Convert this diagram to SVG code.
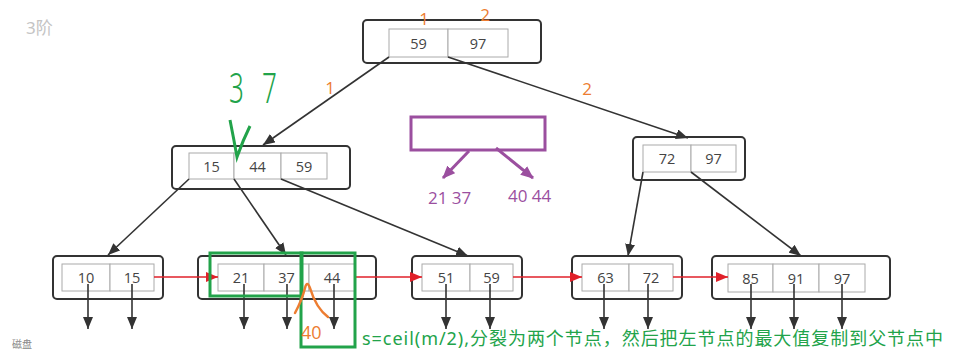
<svg xmlns="http://www.w3.org/2000/svg" width="958" height="354" viewBox="0 0 958 354">
<style>
.outer{fill:#fff;stroke:#333;stroke-width:2}
.cell{fill:#fff;stroke:#aaa;stroke-width:1}
.k{font-family:"Open Sans","Liberation Sans",sans-serif;font-size:14.5px;fill:#444;text-anchor:middle;dominant-baseline:central}
.edge{stroke:#333;stroke-width:1.6;fill:none;marker-end:url(#ah)}
.red{stroke:#e0202a;stroke-width:1.6;fill:none;marker-end:url(#ahr)}
.pur{stroke:#9b4f9f;stroke-width:3;fill:none;marker-end:url(#ahp)}
.or{font-family:"Open Sans","Liberation Sans",sans-serif;font-size:17px;fill:#ed7d31;text-anchor:middle}
.gr{stroke:#22a34a;stroke-width:3;fill:none}
.pt{font-family:"Open Sans","Liberation Sans",sans-serif;font-size:17px;fill:#9b4f9f}
.hw{font-family:"Noto Sans","Liberation Sans",sans-serif;font-size:42px;font-weight:300;fill:#22a34a}
</style>
<defs>
<marker id="ah" markerUnits="userSpaceOnUse" markerWidth="12" markerHeight="10" refX="12" refY="5" orient="auto"><path d="M0,0 L12,5 L0,10 z" fill="#333"/></marker>
<marker id="ahr" markerUnits="userSpaceOnUse" markerWidth="12" markerHeight="10" refX="12" refY="5" orient="auto"><path d="M0,0 L12,5 L0,10 z" fill="#e0202a"/></marker>
<marker id="ahp" markerUnits="userSpaceOnUse" markerWidth="13" markerHeight="11" refX="12" refY="5.5" orient="auto"><path d="M0,0 L13,5.5 L0,11 z" fill="#9b4f9f"/></marker>
</defs>
<rect width="958" height="354" fill="#fff"/>
<text x="26" y="34" font-family="'Noto Sans','Noto Sans CJK SC',sans-serif" font-size="17" fill="#c4c4c4">3阶</text>
<text x="12" y="348" font-family="'Noto Sans CJK SC',sans-serif" font-size="10" fill="#888">磁盘</text>

<g id="root">
<rect class="outer" x="363" y="20" width="178" height="43" rx="4"/>
<rect class="cell" x="389" y="29" width="59" height="28"/>
<rect class="cell" x="448" y="29" width="60" height="28"/>
<text class="k" x="418.5" y="43">59</text>
<text class="k" x="478" y="43">97</text>
</g>
<g id="mid-left">
<rect class="outer" x="172" y="146" width="178" height="43" rx="4"/>
<rect class="cell" x="189" y="153" width="45" height="26"/>
<rect class="cell" x="234" y="153" width="47" height="26"/>
<rect class="cell" x="281" y="153" width="46" height="26"/>
<text class="k" x="211.5" y="166">15</text>
<text class="k" x="257.5" y="166">44</text>
<text class="k" x="304" y="166">59</text>
</g>
<g id="mid-right">
<rect class="outer" x="633" y="137" width="112" height="43" rx="4"/>
<rect class="cell" x="643" y="145" width="48" height="27"/>
<rect class="cell" x="691" y="145" width="45" height="27"/>
<text class="k" x="667" y="158.5">72</text>
<text class="k" x="713.5" y="158.5">97</text>
</g>
<g id="leaf1">
<rect class="outer" x="53" y="256" width="110" height="43" rx="4"/>
<rect class="cell" x="62" y="264" width="48" height="27"/>
<rect class="cell" x="110" y="264" width="44" height="27"/>
<text class="k" x="86" y="277.5">10</text>
<text class="k" x="132" y="277.5">15</text>
</g>
<g id="leaf2">
<rect class="outer" x="198" y="256" width="178" height="43" rx="4"/>
<rect class="cell" x="218" y="264" width="46" height="27"/>
<rect class="cell" x="264" y="264" width="45" height="27"/>
<rect class="cell" x="309" y="264" width="46" height="27"/>
<text class="k" x="241" y="277.5">21</text>
<text class="k" x="286.5" y="277.5">37</text>
<text class="k" x="332" y="277.5">44</text>
</g>
<g id="leaf3">
<rect class="outer" x="412" y="256" width="110" height="43" rx="4"/>
<rect class="cell" x="422" y="264" width="48" height="27"/>
<rect class="cell" x="470" y="264" width="43" height="27"/>
<text class="k" x="446" y="277.5">51</text>
<text class="k" x="491.5" y="277.5">59</text>
</g>
<g id="leaf4">
<rect class="outer" x="572" y="256" width="110" height="43" rx="4"/>
<rect class="cell" x="582" y="264" width="47" height="27"/>
<rect class="cell" x="629" y="264" width="44" height="27"/>
<text class="k" x="605.5" y="277.5">63</text>
<text class="k" x="651" y="277.5">72</text>
</g>
<g id="leaf5">
<rect class="outer" x="712" y="256" width="178" height="43" rx="4"/>
<rect class="cell" x="728" y="264" width="45" height="28"/>
<rect class="cell" x="773" y="264" width="46" height="28"/>
<rect class="cell" x="819" y="264" width="46" height="28"/>
<text class="k" x="750.5" y="278">85</text>
<text class="k" x="796" y="278">91</text>
<text class="k" x="842" y="278">97</text>
</g>

<g id="connectors">
<path class="edge" d="M389,57 L263,145"/>
<path class="edge" d="M448,57 L688,138"/>
<path class="edge" d="M189,179 L108,255"/>
<path class="edge" d="M234,179 L286,255"/>
<path class="edge" d="M281,179 L468,256"/>
<path class="edge" d="M643,172 L628,256"/>
<path class="edge" d="M691,172 L801,256"/>
<path class="red" d="M154,277 L218,277"/>
<path class="red" d="M355,277 L422,277"/>
<path class="red" d="M513,277 L582,277"/>
<path class="red" d="M673,277 L728,277"/>
<path class="edge" d="M88,284 L88,329"/>
<path class="edge" d="M132,284 L132,329"/>
<path class="edge" d="M244,284 L244,329"/>
<path class="edge" d="M287,284 L287,329"/>
<path class="edge" d="M334,284 L334,329"/>
<path class="edge" d="M446,284 L446,329"/>
<path class="edge" d="M490,284 L490,329"/>
<path class="edge" d="M604,284 L604,329"/>
<path class="edge" d="M648,284 L648,329"/>
<path class="edge" d="M751,284 L751,329"/>
<path class="edge" d="M794,284 L794,329"/>
<path class="edge" d="M842,284 L842,329"/>
</g>

<text class="or" x="424" y="25">1</text>
<text class="or" x="485" y="21">2</text>
<text class="or" x="330" y="94">1</text>
<text class="or" x="587" y="95">2</text>

<g id="split-note">
<rect x="411" y="117" width="134" height="33" fill="none" stroke="#9b4f9f" stroke-width="3"/>
<path class="pur" d="M469,151 L443,178"/>
<path class="pur" d="M496,148 L533,178"/>
<text class="pt" x="428" y="204">21 37</text>
<text class="pt" x="508" y="202">40 44</text>
</g>

<g id="annotations">
<text class="hw" transform="translate(229,103) scale(0.62,1)" x="0" y="0">3</text>
<text class="hw" transform="translate(262,103) scale(0.62,1)" x="0" y="0">7</text>
<path class="gr" d="M230,120 Q234,140 237,157 Q243,140 250,126"/>
<rect class="gr" x="210" y="253" width="92" height="43"/>
<rect class="gr" x="301" y="253" width="54" height="94"/>
<path d="M295,313 Q302,300 305,288 Q307,280 310,288 Q316,308 328,317" fill="none" stroke="#ed7d31" stroke-width="2.5" stroke-linecap="round"/>
<text x="301" y="339" font-family="'Open Sans','Liberation Sans',sans-serif" font-size="18" fill="#ed7d31">40</text>
<text x="362" y="345" font-family="'Noto Sans','Noto Sans CJK SC',sans-serif" font-size="18" fill="#22a34a" textLength="581" lengthAdjust="spacing">s=ceil(m/2),分裂为两个节点，然后把左节点的最大值复制到父节点中</text>
</g>
</svg>
